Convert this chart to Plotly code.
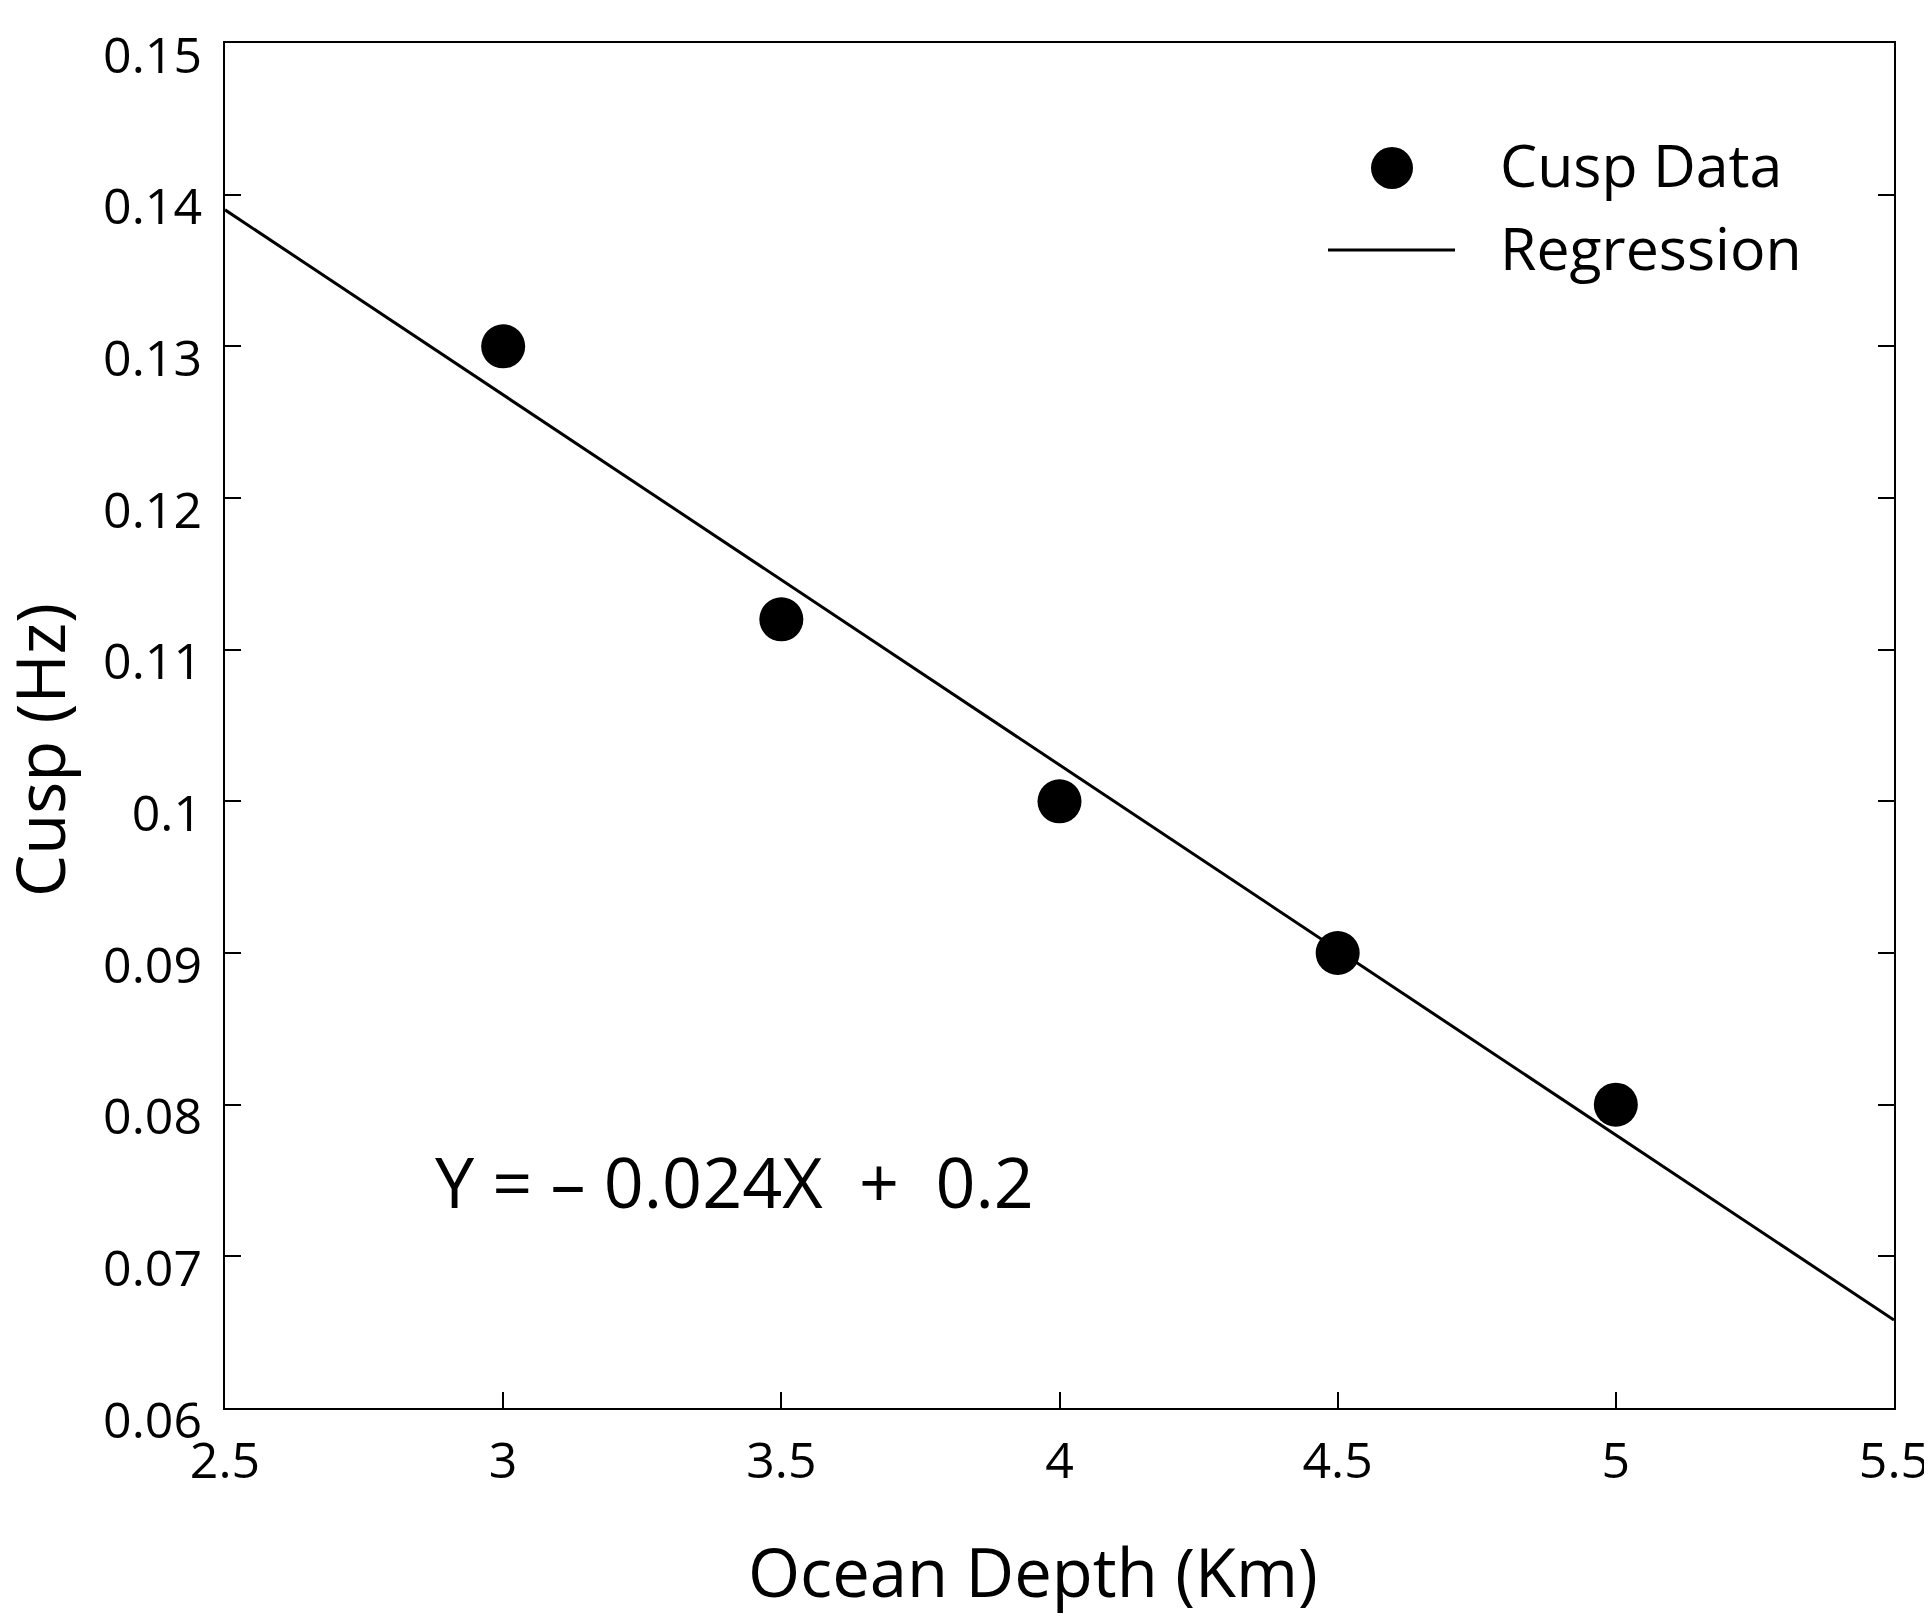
import plotly.graph_objects as go

# cusp data
depth_km = [3.0, 3.5, 4.0, 4.5, 5.0]
cusp_hz = [0.130, 0.112, 0.100, 0.090, 0.080]

# regression line end points (Y = -0.024X + 0.2 as drawn)
reg_x = [2.5, 5.5]
reg_y = [0.139, 0.0658]

x_ticks = [2.5, 3, 3.5, 4, 4.5, 5, 5.5]
x_ticktext = ["2.5", "3", "3.5", "4", "4.5", "5", "5.5"]
y_ticks = [0.06, 0.07, 0.08, 0.09, 0.10, 0.11, 0.12, 0.13, 0.14, 0.15]
y_ticktext = ["0.06", "0.07", "0.08", "0.09", "0.1", "0.11", "0.12", "0.13", "0.14", "0.15"]

FONT = "Open Sans"
W, H = 1932, 1618
OFF = 8  # default body margin of the page
L, R, T, B = 225 - OFF, 38 + OFF, 43 - OFF, 210 + OFF
PW, PH = W - L - R, H - T - B


def px2paper(px, py):
    # page pixel -> paper coordinates
    return (px - OFF - L) / PW, (H - B - (py - OFF)) / PH


fig = go.Figure()
fig.add_trace(go.Scatter(
    x=reg_x, y=reg_y, mode="lines",
    line=dict(color="black", width=3),
    name="Regression", showlegend=False,
))
fig.add_trace(go.Scatter(
    x=depth_km, y=cusp_hz, mode="markers",
    marker=dict(color="black", size=44, line=dict(width=0)),
    name="Cusp Data", showlegend=False,
))

# hand-made legend
mx, my = px2paper(1392, 168)
fig.add_shape(type="circle", xref="paper", yref="paper", xsizemode="pixel", ysizemode="pixel",
              xanchor=mx, yanchor=my, x0=-21, x1=21, y0=-21, y1=21,
              fillcolor="black", line=dict(width=0))
lx0, ly = px2paper(1328, 250)
lx1, _ = px2paper(1455, 250)
fig.add_shape(type="line", xref="paper", yref="paper", x0=lx0, x1=lx1, y0=ly, y1=ly,
              line=dict(color="black", width=3))
tx, ty1 = px2paper(1498, 164)
_, ty2 = px2paper(1498, 247)
for t, yy in [("Cusp Data", ty1), ("Regression", ty2)]:
    fig.add_annotation(x=tx, y=yy, xref="paper", yref="paper", text=t, showarrow=False,
                       xanchor="left", yanchor="middle", font=dict(size=59, color="black", family=FONT))

# equation
ex, ey = px2paper(734, 1181)
fig.add_annotation(x=ex, y=ey, xref="paper", yref="paper",
                   text="Y = \u2013 0.024X\u00a0 +\u00a0 0.2", showarrow=False,
                   xanchor="center", yanchor="middle", font=dict(size=70, color="black", family=FONT))

# axis titles
axx, axy = px2paper(1033, 1571)
fig.add_annotation(x=axx, y=axy, xref="paper", yref="paper", text="Ocean Depth (Km)",
                   showarrow=False, xanchor="center", yanchor="middle",
                   font=dict(size=67, color="black", family=FONT))
ayx, ayy = px2paper(39, 750)
fig.add_annotation(x=ayx, y=ayy, xref="paper", yref="paper", text="Cusp (Hz)", textangle=-90,
                   showarrow=False, xanchor="center", yanchor="middle", borderpad=0,
                   font=dict(size=67, color="black", family=FONT))

fig.update_xaxes(
    range=[2.5, 5.5], tickvals=x_ticks, ticktext=x_ticktext,
    showgrid=False, zeroline=False, showline=True, linecolor="black", linewidth=2,
    mirror=True, ticks="inside", ticklen=16, tickwidth=2, tickcolor="black",
    tickfont=dict(size=50, color="black", family=FONT), ticklabelstandoff=8,
)
fig.update_yaxes(
    range=[0.06, 0.15], tickvals=y_ticks, ticktext=y_ticktext,
    showgrid=False, zeroline=False, showline=True, linecolor="black", linewidth=2,
    mirror="ticks", ticks="inside", ticklen=16, tickwidth=2, tickcolor="black",
    tickfont=dict(size=50, color="black", family=FONT), ticklabelshift=12, ticklabelstandoff=11,
)
fig.update_layout(
    width=W, height=H,
    margin=dict(l=L, r=R, t=T, b=B),
    plot_bgcolor="white", paper_bgcolor="white",
    showlegend=False,
)
fig.write_html("out.html")
